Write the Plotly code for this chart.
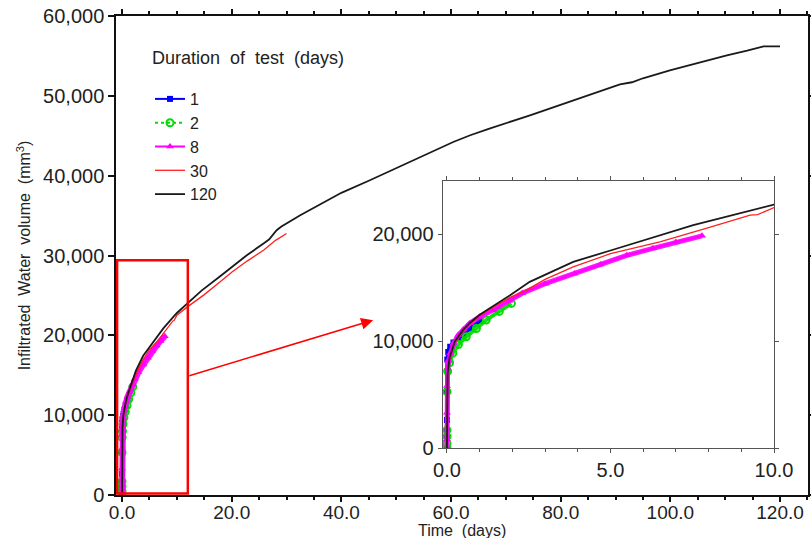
import plotly.graph_objects as go

# ---------------- data ----------------
legend_title = "Duration\u00a0 of\u00a0 test\u00a0 (days)"
x_title = "Time\u00a0 (days)"
y_title = "Infiltrated\u00a0 Water\u00a0 volume\u00a0 (mm<sup>3</sup>)"

d1_x = [0, 0, 0, 0, 0, 0.01, 0.04, 0.1, 0.2, 0.35, 0.5, 0.7, 1.0]
d1_y = [0, 1100, 1620, 2640, 5290, 8300, 9000, 9500, 9900, 10300, 10700, 11200, 11900]

d2_x = [0, 0, 0, 0, 0, 0.02, 0.08, 0.18, 0.35, 0.59, 0.9, 1.2, 1.6, 1.97]
d2_y = [0, 470, 1100, 1700, 5300, 7200, 8000, 8900, 9700, 10430, 11200, 12000, 12800, 13550]

d8_x = [0, 0, 0, 0, 0.02, 0.05, 0.1, 0.2, 0.35, 0.5, 0.7, 1.0, 1.4, 1.9, 2.3,
        3.0, 3.9, 4.7, 5.5, 6.3, 7.0, 7.8]
d8_y = [0, 840, 3330, 5820, 7500, 8200, 8900, 9800, 10600, 11100, 11700, 12300,
        12900, 13800, 14500, 15400, 16350, 17200, 18050, 18700, 19300, 19870]

d30_x = [0, 0.005, 0.02, 0.08, 0.24, 0.5, 0.69, 1.0, 1.41, 1.92, 2.43, 3.0, 3.86,
         5.0, 6.51, 8.0, 9.27, 9.5, 10.0, 11.8, 15.0, 17.9, 20.0, 22.8, 25.8, 28.0, 30.0]
d30_y = [0, 3000, 7000, 8400, 9900, 11000, 11600, 12400, 13200, 14100, 14800, 15800,
         16970, 18200, 19310, 20650, 21800, 21850, 22520, 23500, 25100, 26700, 27900,
         29300, 30660, 31900, 32750]

d120_x = [0, 0.005, 0.02, 0.08, 0.24, 0.5, 0.69, 1.0, 1.41, 1.92, 2.53, 3.86, 5.0,
          7.53, 10.0, 11.8, 14.5, 17.9, 22.7, 25.8, 26.8, 28.2, 29.0, 32.5, 35.0, 40.0,
          45.2, 49.0, 54.3, 60.4, 63.5, 67.0, 74.4, 80.0, 87.2, 90.8, 93.0, 95.0, 99.9,
          105.0, 110.3, 114.0, 117.0, 120.0]
d120_y = [0, 3000, 7000, 8500, 10000, 11100, 11700, 12500, 13300, 14300, 15570,
          17440, 18500, 20870, 22800, 23900, 25600, 27400, 30000, 31500, 32000,
          33170, 33600, 35040, 36000, 37850, 39420, 40640, 42340, 44220, 45060, 45900,
          47560, 48900, 50600, 51440, 51700, 52200, 53190, 54150, 55070, 55650, 56200,
          56200]

series = [
    ("1", d1_x, d1_y, "#0000ff", "solid", "square", 6),
    ("2", d2_x, d2_y, "#00dd00", "dot", "circle-open", 7),
    ("8", d8_x, d8_y, "#ff00ff", "solid", "triangle-up", 7),
    ("30", d30_x, d30_y, "#ff2020", "solid", None, 0),
    ("120", d120_x, d120_y, "#1a1a1a", "solid", None, 0),
]

FONT = "Liberation Sans, Arial, sans-serif"
W, H = 811, 538
L, R, T, B = 116, 3, 16, 43

fig = go.Figure()

for axes in [("x", "y"), ("x2", "y2")]:
    first = axes[0] == "x"
    for name, xs, ys, col, dash, sym, msz in series:
        if sym is not None:
            # thick band (dense markers in the original)
            band = (6 if first else 5) if name == "8" else 4
            fig.add_trace(go.Scatter(
                x=xs, y=ys, xaxis=axes[0], yaxis=axes[1], mode="lines",
                line=dict(color=col, width=band),
                opacity=0.9, showlegend=False, hoverinfo="skip"))
            fig.add_trace(go.Scatter(
                x=xs, y=ys, xaxis=axes[0], yaxis=axes[1], name=name,
                mode="lines+markers", showlegend=first, legendgroup=name,
                line=dict(color=col, width=2, dash=dash),
                marker=dict(symbol=sym, size=msz, color=col,
                            line=dict(color=col, width=2 if sym == "circle-open" else 0))))
        else:
            fig.add_trace(go.Scatter(
                x=xs, y=ys, xaxis=axes[0], yaxis=axes[1], name=name,
                mode="lines", showlegend=first, legendgroup=name,
                line=dict(color=col, width=1.3 if name == "30" else 1.8)))

axis_common = dict(showgrid=False, zeroline=False, showline=True, mirror="allticks",
                   ticks="outside", automargin=False,
                   tickfont=dict(family=FONT, size=20, color="#222"))

plot_w = W - L - R
plot_h = H - T - B

fig.update_layout(
    width=W, height=H,
    margin=dict(l=L, r=R, t=T, b=B, pad=0, autoexpand=False),
    paper_bgcolor="white", plot_bgcolor="white",
    font=dict(family=FONT, color="#222"),
    xaxis=dict(axis_common, range=[-1.1, 125.1], dtick=20, tick0=0, tickformat=".1f",
               linecolor="#111", linewidth=1.5, tickcolor="#111", tickwidth=1.5, ticklen=5,
               ticklabelstandoff=-6,
               tickfont=dict(family=FONT, size=19, color="#222"),
               minor=dict(dtick=5, tick0=0, ticklen=3, ticks="outside", tickcolor="#111")),
    yaxis=dict(axis_common, range=[0, 60000], dtick=10000, tickformat=",",
               linecolor="#111", linewidth=1.5, tickcolor="#111", tickwidth=1.5, ticklen=6,
               title=dict(text=y_title, font=dict(family=FONT, size=16), standoff=8)),
    xaxis2=dict(axis_common, domain=[(442.7 - L) / plot_w, (774 - L) / plot_w], anchor="y2",
                range=[-0.13, 10], dtick=5, tick0=0, tickformat=".1f",
                linecolor="#555", linewidth=1.2, tickcolor="#555", ticklen=4,
                minor=dict(dtick=1, tick0=0, ticklen=3, ticks="outside", tickcolor="#555")),
    yaxis2=dict(axis_common, domain=[(H - B - 448.3) / plot_h, (H - B - 181) / plot_h], anchor="x2",
                range=[0, 25000], dtick=10000, tickformat=",",
                linecolor="#555", linewidth=1.2, tickcolor="#555", ticklen=4),
    legend=dict(x=(150 - L) / plot_w, y=(H - B - 82) / plot_h, xanchor="left", yanchor="top",
                bgcolor="rgba(0,0,0,0)", borderwidth=0,
                font=dict(family=FONT, size=16, color="#222"), tracegroupgap=0),
    showlegend=True,
)

# x-axis title, placed below the tick labels
fig.add_annotation(text=x_title, xref="paper", yref="paper", x=0.5,
                   y=(H - B - 530) / plot_h, xanchor="center", yanchor="middle",
                   showarrow=False, font=dict(family=FONT, size=16, color="#222"))

# legend title
fig.add_annotation(text=legend_title, xref="paper", yref="paper",
                   x=(150 - L) / plot_w, y=(H - B - 58) / plot_h, xanchor="left", yanchor="middle",
                   showarrow=False, font=dict(family=FONT, size=18, color="#222"))

# red zoom box
fig.add_shape(type="rect", xref="x", yref="y", x0=-0.9, x1=12.0, y0=200, y1=29400,
              line=dict(color="#ff0000", width=2.5), fillcolor="rgba(0,0,0,0)")

# red arrow
fig.add_annotation(xref="x", yref="y", axref="x", ayref="y",
                   x=45.8, y=21900, ax=12.0, ay=14890, text="", showarrow=True,
                   arrowhead=2, arrowsize=1.6, arrowwidth=1.5, arrowcolor="#ff0000")

fig.write_html("out.html")
